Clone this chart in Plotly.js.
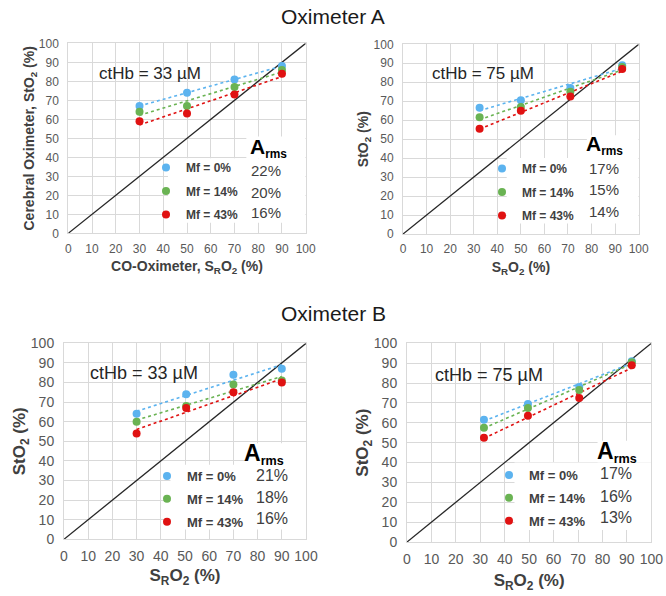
<!DOCTYPE html>
<html><head><meta charset="utf-8">
<script src="https://cdn.plot.ly/plotly-3.0.1.min.js"></script>
<style>html,body{margin:0;padding:0;background:#fff}</style>
</head><body><div id="chart" style="width:666px;height:596px"></div>
<script>
// ---- data ----
const mfLabels = ['Mf = 0%', 'Mf = 14%', 'Mf = 43%'];
const identityLine = [0, 100];

// Oximeter A, ctHb = 33 µM
const xA33 = [30, 50, 70, 90];
const yA33_mf0 = [67, 74, 81, 88];
const yA33_mf14 = [64, 67, 77, 86];
const yA33_mf43 = [59, 63, 73, 84];
const armsA33 = ['22%', '20%', '16%'];

// Oximeter A, ctHb = 75 µM
const xA75 = [32.5, 50, 71, 93];
const yA75_mf0 = [66.5, 70.5, 77, 89];
const yA75_mf14 = [61.5, 67, 75, 88];
const yA75_mf43 = [55.5, 65, 72.5, 87];
const armsA75 = ['17%', '15%', '14%'];

// Oximeter B, ctHb = 33 µM
const xB33 = [30, 50.5, 70, 90];
const yB33_mf0 = [64, 74, 84, 87];
const yB33_mf14 = [60, 68, 79, 81];
const yB33_mf43 = [54, 67, 75, 80];
const armsB33 = ['21%', '18%', '16%'];

// Oximeter B, ctHb = 75 µM
const xB75 = [31.5, 49.5, 70.5, 92];
const yB75_mf0 = [61.5, 69.5, 78, 91];
const yB75_mf14 = [57.5, 67.5, 76.5, 90.5];
const yB75_mf43 = [52.5, 63.5, 72.5, 89];
const armsB75 = ['17%', '16%', '13%'];

const panelLabels = ['ctHb = 33 µM', 'ctHb = 75 µM', 'ctHb = 33 µM', 'ctHb = 75 µM'];
const groupTitles = ['Oximeter A', 'Oximeter B'];

// ---- styles ----
const colors = ['#5cb3ef', '#6ab353', '#e01212'];
const FONT = 'Liberation Sans, Arial, sans-serif';

const styleA = {tick: 12, title: 14, leg: 12, val: 15, ct: 17, arms: 17, armsBig: 21, gap: 4.5};
const styleB = {tick: 14, title: 17, leg: 13, val: 16, ct: 18, arms: 18, armsBig: 23, gap: 3};

const panels = [
  {x: xA33, ys: [yA33_mf0, yA33_mf14, yA33_mf43], arms: armsA33, label: panelLabels[0], s: styleA,
   dom: [[68.3, 305.7], [43.3, 233.3]], lab: [12.1, 84.2], armsPos: [84.2, 44.8], vals: [83.2, [33.3, 21.4, 10.8]],
   box: [[42, 100, 5.5, 39.5], [75, 100, 39.5, 51]], leg: [146, 153], xso: 6, yso: 0,
   xt: 'CO-Oximeter, S<sub>R</sub>O<sub>2</sub> (%)', yt: 'Cerebral Oximeter, StO<sub>2</sub> (%)'},
  {x: xA75, ys: [yA75_mf0, yA75_mf14, yA75_mf43], arms: armsA75, label: panelLabels[1], s: styleA,
   dom: [[403, 638.7], [44.3, 234]], lab: [11.3, 84.7], armsPos: [85.5, 46.9], vals: [85.4, [34.5, 23.4, 11.6]],
   box: [[44, 100, 5.5, 40], [78, 100, 40, 52]], leg: [482, 154], xso: 6, yso: 1,
   xt: 'S<sub>R</sub>O<sub>2</sub> (%)', yt: 'StO<sub>2</sub> (%)'},
  {x: xB33, ys: [yB33_mf0, yB33_mf14, yB33_mf43], arms: armsB33, label: panelLabels[2], s: styleB,
   dom: [[64, 306], [343.3, 539.3]], lab: [10, 84.7], armsPos: [82.6, 43.5], vals: [85.8, [32.3, 21.3, 10.7]],
   box: [[44, 100, 5, 38], [75, 100, 38, 49]], leg: [147, 461], xso: 6, yso: 0,
   xt: 'S<sub>R</sub>O<sub>2</sub> (%)', yt: 'StO<sub>2</sub> (%)'},
  {x: xB75, ys: [yB75_mf0, yB75_mf14, yB75_mf43], arms: armsB75, label: panelLabels[3], s: styleB,
   dom: [[407, 651.3], [343.3, 542]], lab: [10.6, 84.1], armsPos: [86, 45.4], vals: [85.7, [34.4, 23, 12.1]],
   box: [[44, 100, 6, 40], [78, 100, 40, 51]], leg: [489, 460], xso: 8, yso: 0,
   xt: 'S<sub>R</sub>O<sub>2</sub> (%)', yt: 'StO<sub>2</sub> (%)'}
];

const W = 666, H = 596;
function fit(x, y) {
  const n = x.length;
  const mx = x.reduce((a, b) => a + b, 0) / n, my = y.reduce((a, b) => a + b, 0) / n;
  let sxy = 0, sxx = 0;
  for (let i = 0; i < n; i++) { sxy += (x[i] - mx) * (y[i] - my); sxx += (x[i] - mx) ** 2; }
  const b = sxy / sxx, a = my - b * mx;
  const x0 = Math.min(...x), x1 = Math.max(...x);
  return {x: [x0, x1], y: [a + b * x0, a + b * x1]};
}

const traces = [], shapes = [], annotations = [];
const layout = {
  width: W, height: H, margin: {l: 0, r: 0, t: 0, b: 0},
  paper_bgcolor: '#fff', plot_bgcolor: '#fff', font: {family: FONT, color: '#404040'},
  showlegend: true
};

panels.forEach((p, i) => {
  const k = i + 1, s = p.s;
  const xa = 'x' + (k === 1 ? '' : k), ya = 'y' + (k === 1 ? '' : k);
  const xaKey = 'xaxis' + (k === 1 ? '' : k), yaKey = 'yaxis' + (k === 1 ? '' : k);
  const legKey = 'legend' + (k === 1 ? '' : k);
  const axCommon = {
    range: [0, 100], dtick: 10, tick0: 0, showgrid: true, gridcolor: '#d9d9d9', gridwidth: 1,
    zeroline: false, showline: true, linecolor: '#d9d9d9', linewidth: 1, mirror: true,
    ticks: '', tickfont: {size: s.tick, color: '#595959', family: FONT}, fixedrange: true
  };
  layout[xaKey] = Object.assign({}, axCommon, {
    domain: [p.dom[0][0] / W, p.dom[0][1] / W], anchor: ya,
    title: {text: '<b>' + p.xt + '</b>', font: {size: s.title, color: '#404040', family: FONT}, standoff: p.xso},
    ticklabelstandoff: 4
  });
  layout[yaKey] = Object.assign({}, axCommon, {
    domain: [1 - p.dom[1][1] / H, 1 - p.dom[1][0] / H], anchor: xa,
    title: {text: '<b>' + p.yt + '</b>', font: {size: s.title, color: '#404040', family: FONT}, standoff: p.yso},
    ticklabelstandoff: 6
  });
  layout[legKey] = {
    x: p.leg[0] / W, y: 1 - p.leg[1] / H, xanchor: 'left', yanchor: 'top',
    bgcolor: 'rgba(0,0,0,0)', borderwidth: 0, font: {size: s.leg, color: '#404040', family: FONT},
    tracegroupgap: s.gap, itemwidth: 30
  };
  // white boxes behind legend & Arms
  p.box.forEach(b => shapes.push({type: 'rect', xref: xa, yref: ya, x0: b[0], x1: b[1], y0: b[2], y1: b[3],
    fillcolor: '#ffffff', line: {width: 0}, layer: 'between'}));
  // identity line
  traces.push({x: identityLine, y: identityLine, xaxis: xa, yaxis: ya, mode: 'lines',
    line: {color: '#262626', width: 1.3}, showlegend: false, hoverinfo: 'skip'});
  p.ys.forEach((y, j) => {
    const f = fit(p.x, y);
    traces.push({x: f.x, y: f.y, xaxis: xa, yaxis: ya, mode: 'lines',
      line: {color: colors[j], width: 1.6, dash: 'dot'}, showlegend: false, hoverinfo: 'skip'});
  });
  p.ys.forEach((y, j) => {
    traces.push({x: p.x, y: y, xaxis: xa, yaxis: ya, mode: 'markers', name: '<b>' + mfLabels[j] + '</b>',
      marker: {color: colors[j], size: 8}, legend: legKey, legendgroup: 'g' + k + '_' + j});
  });
  annotations.push({xref: xa, yref: ya, x: p.lab[0], y: p.lab[1], xanchor: 'left', yanchor: 'middle',
    text: p.label, showarrow: false, font: {size: s.ct, color: '#262626', family: FONT}});
  annotations.push({xref: xa, yref: ya, x: p.armsPos[0], y: p.armsPos[1], xanchor: 'center', yanchor: 'middle',
    text: '<b><span style="font-size:' + s.armsBig + 'px">A</span><sub>rms</sub></b>', showarrow: false,
    font: {size: s.arms, color: '#000', family: FONT}});
  p.arms.forEach((v, j) => annotations.push({xref: xa, yref: ya, x: p.vals[0], y: p.vals[1][j],
    xanchor: 'center', yanchor: 'middle', text: v, showarrow: false,
    font: {size: s.val, color: '#404040', family: FONT}}));
});

annotations.push({xref: 'paper', yref: 'paper', x: 0.5, y: 1 - 17 / H, xanchor: 'center', yanchor: 'middle',
  text: groupTitles[0], showarrow: false, font: {size: 21, color: '#1a1a1a', family: FONT}});
annotations.push({xref: 'paper', yref: 'paper', x: 0.5, y: 1 - 313 / H, xanchor: 'center', yanchor: 'middle',
  text: groupTitles[1], showarrow: false, font: {size: 21, color: '#1a1a1a', family: FONT}});

layout.shapes = shapes;
layout.annotations = annotations;
Plotly.newPlot('chart', traces, layout, {displayModeBar: false, staticPlot: true});
</script></body></html>
